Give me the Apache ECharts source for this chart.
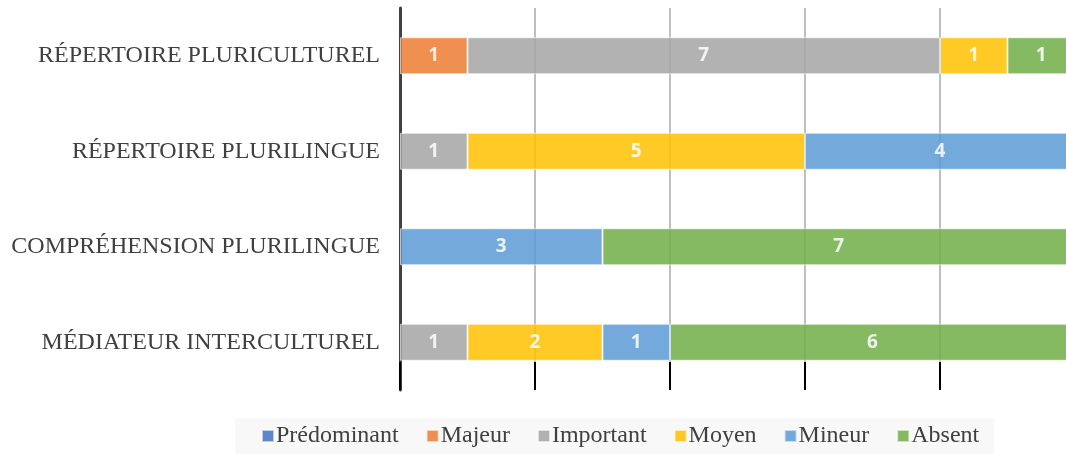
<!DOCTYPE html>
<html>
<head>
<meta charset="utf-8">
<script src="https://cdn.jsdelivr.net/npm/echarts@6/dist/echarts.min.js"></script>
<style>
  html, body { margin: 0; padding: 0; background: #fff; overflow: hidden; }
  #chart { width: 1066px; height: 454px; }
</style>
</head>
<body>
<div id="chart"></div>
<script>
// categories, top to bottom
const categories = ['RÉPERTOIRE PLURICULTUREL', 'RÉPERTOIRE PLURILINGUE', 'COMPRÉHENSION PLURILINGUE', 'MÉDIATEUR INTERCULTUREL'];
const levels = ['Prédominant', 'Majeur', 'Important', 'Moyen', 'Mineur', 'Absent'];
const colors = ['#4472C4', '#ED7D31', '#A5A5A5', '#FFC000', '#5B9BD5', '#70AD47'];
const tickValues = [0, 2, 4, 6, 8];

// counts per level, same order as categories (null = none)
const predominant = [null, null, null, null];
const majeur = [1, null, null, null];
const important = [7, 1, null, 1];
const moyen = [1, 5, null, 2];
const mineur = [null, 4, 3, 1];
const absent = [1, null, 7, 6];

const values = [predominant, majeur, important, moyen, mineur, absent];

let chart = echarts.init(document.getElementById('chart'));

let series = levels.map((name, i) => ({
  name: name,
  type: 'bar',
  stack: 'total',
  barWidth: 37,
  clip: false,
  data: values[i],
  itemStyle: {
    color: colors[i],
    opacity: 0.85,
    borderColor: 'rgba(255,255,255,0.7)',
    borderWidth: 1
  },
  label: {
    show: true,
    position: 'inside',
    color: '#fff',
    fontFamily: 'Open Sans',
    fontWeight: 'bold',
    fontSize: 19
  }
}));

chart.setOption({
  animation: false,
  color: colors,
  // the source picture is cut at the right: 10 would sit at x=1075, so the
  // visible axis stops a bit before 10
  grid: { left: 400, top: 8, bottom: 64, right: 0 },
  legend: {
    bottom: 0,
    left: 235,
    padding: [6, 15, 6, 26],
    backgroundColor: '#f8f8f8',
    itemWidth: 12,
    itemHeight: 12,
    itemGap: 27,
    icon: 'rect',
    textStyle: { fontFamily: 'Liberation Serif', fontSize: 24, color: '#404040', padding: [0, 0, 0, -3] },
    data: levels
  },
  xAxis: {
    type: 'value',
    min: 0,
    max: 666 / 67.5,
    axisLine: { show: false },
    axisLabel: { show: false, customValues: tickValues },
    axisTick: { show: true, inside: true, length: 28, customValues: tickValues, lineStyle: { color: '#000', width: 2 } },
    splitLine: { showMinLine: false, lineStyle: { color: '#bfbfbf', width: 2 } }
  },
  yAxis: {
    type: 'category',
    inverse: true,
    data: categories,
    axisLine: { show: true, lineStyle: { color: '#404040', width: 3 } },
    axisTick: { show: false },
    axisLabel: { fontFamily: 'Liberation Serif', fontSize: 24, color: '#404040', margin: 20 }
  },
  series: series
});
</script>
</body>
</html>
